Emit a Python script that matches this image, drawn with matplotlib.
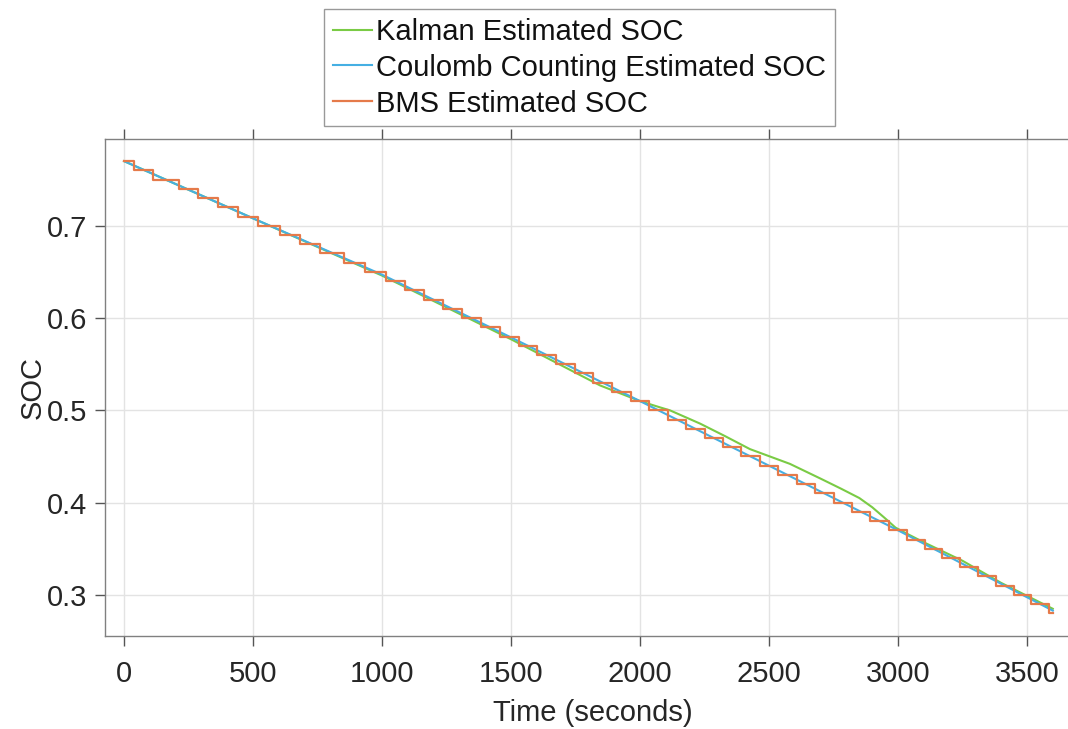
import matplotlib
matplotlib.use("Agg")
import matplotlib.pyplot as plt
import numpy as np

# ---- data ----
coulomb_t = [0, 500, 1000, 1500, 2000, 2500, 3000, 3600]
coulomb_soc = [0.770, 0.708, 0.647, 0.579, 0.510, 0.440, 0.370, 0.283]

kalman_t = [0, 500, 1000, 1500, 1700, 1845, 2000, 2080, 2116, 2233, 2330,
            2426, 2581, 2700, 2780, 2850, 2900, 2950, 2990, 3030, 3100,
            3250, 3400, 3600]
kalman_soc = [0.770, 0.708, 0.646, 0.577, 0.548, 0.527, 0.510, 0.503, 0.500,
              0.4856, 0.472, 0.458, 0.442, 0.426, 0.415, 0.405, 0.395, 0.383,
              0.373, 0.367, 0.357, 0.337, 0.313, 0.285]

# BMS estimate: step-change times and the level held from each time
bms_t = [0, 40, 114, 212, 286, 363, 441, 518, 605, 680, 760, 854, 934,
         1015, 1088, 1162, 1235, 1309, 1382, 1456, 1529, 1601, 1674, 1746,
         1819, 1891, 1964, 2036, 2107, 2179, 2250, 2321, 2393, 2464, 2536,
         2607, 2679, 2750, 2821, 2893, 2964, 3034, 3103, 3172, 3241, 3310,
         3379, 3448, 3517, 3586, 3600]
bms_soc = [0.77, 0.76, 0.75, 0.74, 0.73, 0.72, 0.71, 0.70, 0.69, 0.68, 0.67,
           0.66, 0.65, 0.64, 0.63, 0.62, 0.61, 0.60, 0.59, 0.58, 0.57, 0.56,
           0.55, 0.54, 0.53, 0.52, 0.51, 0.50, 0.49, 0.48, 0.47, 0.46, 0.45,
           0.44, 0.43, 0.42, 0.41, 0.40, 0.39, 0.38, 0.37, 0.36, 0.35, 0.34,
           0.33, 0.32, 0.31, 0.30, 0.29, 0.28, 0.28]

xticks = [0, 500, 1000, 1500, 2000, 2500, 3000, 3500]
yticks = [0.3, 0.4, 0.5, 0.6, 0.7]

plt.rcParams['font.family'] = ['Liberation Sans', 'DejaVu Sans']

W, H = 1068, 729
fig = plt.figure(figsize=(W / 100, H / 100), dpi=100)
ax = fig.add_axes([105 / W, 1 - 636 / H, (1080 - 105) / W, (636 - 139) / H])

c_green = '#7acb45'
c_blue = '#45afe3'
c_orange = '#e57a4a'

ax.plot(kalman_t, kalman_soc, color=c_green, lw=1.5, label='Kalman Estimated SOC')
ax.plot(coulomb_t, coulomb_soc, color=c_blue, lw=1.5, label='Coulomb Counting Estimated SOC')
ax.step(bms_t, bms_soc, where='post', color=c_orange, lw=1.6, label='BMS Estimated SOC')

ax.set_xlim(-74, (1080 - 124) / 0.258)
ax.set_ylim(0.2555, 0.794)
ax.set_xticks(xticks)
ax.set_xticklabels([str(v) for v in xticks])
ax.set_yticks(yticks)
ax.set_yticklabels([f'{v:.1f}' for v in yticks])

ax.grid(True, color='#e3e3e3', lw=1)
ax.set_axisbelow(True)
for s in ax.spines.values():
    s.set_color('#808080')
    s.set_linewidth(1.0)
ax.tick_params(axis='both', which='both', direction='out', length=7, width=1,
               color='#555555', labelsize=21, labelcolor='#262626',
               top=True, right=True)
ax.tick_params(axis='x', pad=10)
ax.tick_params(axis='y', pad=6)

ax.set_xlabel('Time (seconds)', fontsize=21, color='#262626', labelpad=8)
ax.set_ylabel('SOC', fontsize=21, color='#262626', labelpad=0)

leg = fig.legend(loc='upper center', bbox_to_anchor=(579.5 / W, 1 - 9 / H),
                 bbox_transform=fig.transFigure, fontsize=21, frameon=True,
                 fancybox=False, borderaxespad=0, borderpad=0.3,
                 handlelength=1.35, handletextpad=0.15, labelspacing=0.27)
leg.get_frame().set_edgecolor('#808080')
leg.get_frame().set_linewidth(1.0)
for t in leg.get_texts():
    t.set_color('#111111')

fig.savefig('out.png', dpi=100)
